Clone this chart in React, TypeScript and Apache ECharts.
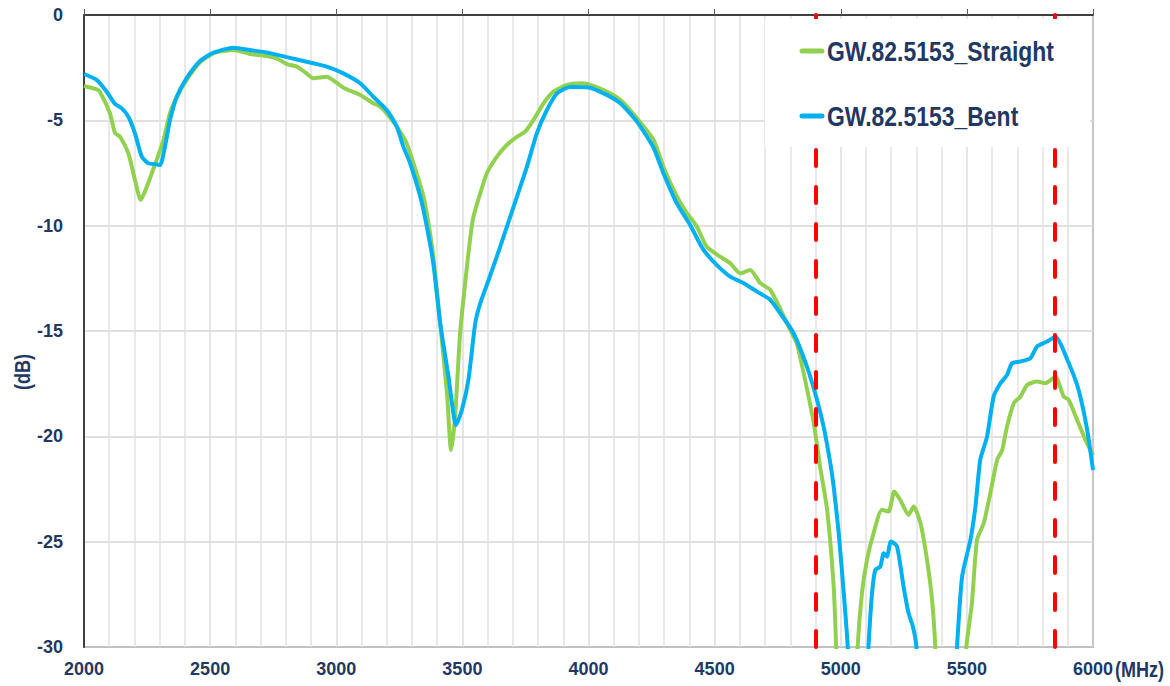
import React, { useEffect, useRef } from "react";
import * as echarts from "echarts";

const straightFreq = [
  2000, 2050, 2063, 2103, 2123, 2143, 2176, 2202, 2225, 2249, 2288, 2315, 2341, 2368, 2407, 2460, 2513, 2592,
  2658, 2725, 2770, 2804, 2844, 2880, 2909, 2962, 3000, 3028, 3095, 3147, 3174, 3200, 3240, 3279, 3306, 3346,
  3372, 3386, 3412, 3439, 3455, 3471, 3491, 3511, 3531, 3544, 3571, 3597, 3637, 3676, 3716, 3749, 3782, 3822,
  3861, 3914, 3967, 3994, 4060, 4126, 4192, 4258, 4297, 4350, 4390, 4430, 4469, 4522, 4562, 4602, 4641, 4681,
  4721, 4760, 4800, 4826, 4853, 4893, 4919, 4946, 4972, 4982, 5000, 5055, 5067, 5084, 5104, 5130, 5163, 5190,
  5212, 5236, 5269, 5289, 5316, 5342, 5362, 5375, 5390, 5480, 5498, 5520, 5540, 5567, 5593, 5620, 5640, 5659,
  5686, 5712, 5739, 5778, 5811, 5851, 5884, 5904, 5937, 5970, 6000,
];
const straightDb = [
  -3.37, -3.53, -3.64, -4.67, -5.6, -5.78, -6.57, -7.83, -8.78, -8.15, -6.88, -5.93, -4.66, -3.88, -3.08, -2.25, -1.82, -1.66,
  -1.85, -1.95, -2.1, -2.33, -2.45, -2.75, -3.0, -2.93, -3.2, -3.45, -3.8, -4.19, -4.35, -4.67, -5.3, -6.09, -7.04, -8.62,
  -10.36, -11.6, -14.63, -17.95, -20.65, -19.06, -15.1, -12.73, -10.6, -9.57, -8.46, -7.51, -6.72, -6.17, -5.78, -5.54, -4.98, -4.19,
  -3.64, -3.32, -3.24, -3.27, -3.56, -4.03, -4.9, -5.93, -7.2, -8.6, -9.4, -10.05, -11.0, -11.47, -11.79, -12.26, -12.1, -12.73,
  -13.05, -13.95, -14.95, -15.6, -17.0, -19.38, -21.5, -23.49, -27.13, -30, -34, -34, -30, -27.45, -25.87, -24.6, -23.49, -23.57,
  -22.62, -23.02, -23.73, -23.33, -24.12, -25.87, -27.77, -30, -34, -34, -30, -27.92, -24.92, -24.12, -22.7, -21.12, -20.65, -19.54,
  -18.43, -18.12, -17.56, -17.4, -17.48, -17.17, -18.12, -18.27, -19.22, -20.17, -20.9,
];

const bentFreq = [
  2000, 2050, 2090, 2123, 2150, 2176, 2202, 2229, 2255, 2288, 2302, 2321, 2341, 2368, 2407, 2460, 2513, 2592,
  2671, 2725, 2804, 2909, 2962, 3028, 3095, 3147, 3174, 3200, 3240, 3266, 3293, 3333, 3359, 3386, 3412, 3445,
  3475, 3498, 3524, 3551, 3571, 3604, 3650, 3703, 3756, 3795, 3835, 3875, 3927, 3994, 4060, 4126, 4192, 4258,
  4297, 4350, 4403, 4456, 4509, 4562, 4615, 4668, 4721, 4774, 4813, 4866, 4906, 4932, 4959, 4972, 4992, 5012,
  5028, 5045, 5095, 5110, 5124, 5137, 5157, 5170, 5183, 5199, 5223, 5249, 5269, 5286, 5300, 5315, 5445, 5461,
  5481, 5514, 5534, 5553, 5580, 5606, 5633, 5659, 5679, 5712, 5752, 5778, 5818, 5851, 5904, 5943, 5977, 6000,
];
const bentDb = [
  -2.8, -3.08, -3.64, -4.22, -4.43, -4.83, -5.62, -6.72, -7.04, -7.09, -7.12, -6.25, -4.98, -3.88, -3.0, -2.18, -1.79, -1.55,
  -1.69, -1.78, -2.0, -2.29, -2.45, -2.77, -3.24, -3.88, -4.19, -4.51, -5.3, -6.25, -7.04, -8.62, -10.05, -11.9, -14.63, -17.17,
  -19.46, -18.75, -17.32, -14.63, -13.68, -12.58, -11.0, -9.1, -7.2, -5.62, -4.51, -3.72, -3.42, -3.43, -3.72, -4.19, -5.06, -6.3,
  -7.51, -8.94, -9.97, -11.15, -11.87, -12.42, -12.73, -13.13, -13.53, -14.4, -15.1, -16.69, -18.27, -19.54, -21.3, -22.39, -24.6, -27.45,
  -30, -34, -34, -30, -27.45, -26.34, -26.18, -25.55, -25.71, -24.99, -25.23, -27.13, -28.4, -29.03, -30, -34, -34, -30,
  -26.66, -24.92, -23.33, -21.12, -20.01, -18.12, -17.48, -17.09, -16.53, -16.45, -16.29, -15.74, -15.5, -15.27, -16.53, -17.8, -19.7, -21.6,
];

const markerFreqs = [4900, 5850];
const seriesNames = ["GW.82.5153_Straight", "GW.82.5153_Bent"];
const seriesColors = ["#92D050", "#00B0F0"];
const xTicks = [2000, 6000, 500];
const yTicks = [-30, 0, 5];

const NAVY = "#1F3864";
const FONT = "Arial, 'Liberation Sans', sans-serif";
const NARROW = 0.82;

export default function App() {
  const ref = useRef<HTMLDivElement>(null);
  useEffect(() => {
    if (!ref.current) return;
    const chart = echarts.init(ref.current, null, { renderer: "svg" });
    const zip = (xs: number[], ys: number[]) => xs.map((x, i) => [x, ys[i]]);
    const legendRows = [51, 116];
    const legendGraphic: any[] = [
      {
        type: "rect",
        z: 100,
        shape: { x: 765, y: 19, width: 325, height: 128 },
        style: { fill: "#ffffff" },
      },
    ];
    seriesNames.forEach((name, i) => {
      legendGraphic.push({
        type: "line",
        z: 101,
        shape: { x1: 802, y1: legendRows[i], x2: 822, y2: legendRows[i] },
        style: { stroke: seriesColors[i], lineWidth: 5, lineCap: "round" },
      });
      legendGraphic.push({
        type: "text",
        z: 101,
        x: 827,
        y: legendRows[i],
        scaleX: 0.85,
        style: {
          text: name,
          fontFamily: FONT,
          fontWeight: "bold",
          fontSize: 27,
          fill: NAVY,
          align: "left",
          verticalAlign: "middle",
        },
      });
    });
    chart.setOption({
      animation: false,
      backgroundColor: "#ffffff",
      grid: {
        left: 84,
        right: 77,
        top: 15,
        bottom: 39,
        show: true,
        borderColor: "#595959",
        borderWidth: 1.5,
      },
      xAxis: {
        type: "value",
        min: xTicks[0],
        max: xTicks[1],
        interval: xTicks[2],
        axisLine: { show: true, lineStyle: { color: "#404040", width: 2 } },
        axisTick: { show: true, inside: true, length: 6, lineStyle: { color: "#595959", width: 1 } },
        axisLabel: {
          fontFamily: FONT,
          fontWeight: "bold",
          fontSize: 18,
          color: NAVY,
          margin: 13,
          formatter: (v: number) => String(v),
        },
        splitLine: { show: true, lineStyle: { color: "#dcdcdc", width: 1.5 } },
        minorTick: { show: false, splitNumber: 5 },
        minorSplitLine: { show: true, lineStyle: { color: "#e2e2e2", width: 1.5 } },
      },
      yAxis: {
        type: "value",
        min: yTicks[0],
        max: yTicks[1],
        interval: yTicks[2],
        axisLine: { show: true, lineStyle: { color: "#404040", width: 2 } },
        axisTick: { show: false },
        axisLabel: { fontFamily: FONT, fontWeight: "bold", fontSize: 18, color: NAVY, margin: 21 },
        splitLine: { show: true, lineStyle: { color: "#d6d6d6", width: 1.5 } },
      },
      graphic: [
        ...legendGraphic,
        {
          type: "text",
          x: 1115,
          y: 669,
          scaleX: NARROW,
          style: {
            text: "(MHz)",
            fontFamily: FONT,
            fontWeight: "bold",
            fontSize: 22,
            fill: NAVY,
            align: "left",
            verticalAlign: "middle",
          },
        },
        {
          type: "text",
          x: 11,
          y: 390,
          rotation: Math.PI / 2,
          scaleX: NARROW,
          style: { text: "(dB)", fontFamily: FONT, fontWeight: "bold", fontSize: 22, fill: NAVY },
        },
      ],
      series: [
        {
          name: seriesNames[0],
          type: "line",
          showSymbol: false,
          smooth: 0.2,
          clip: true,
          color: seriesColors[0],
          lineStyle: { width: 4, color: seriesColors[0] },
          data: zip(straightFreq, straightDb),
          z: 2,
        },
        {
          name: seriesNames[1],
          type: "line",
          showSymbol: false,
          smooth: 0.2,
          clip: true,
          color: seriesColors[1],
          lineStyle: { width: 4, color: seriesColors[1] },
          data: zip(bentFreq, bentDb),
          z: 3,
          markLine: {
            silent: true,
            symbol: ["none", "none"],
            label: { show: false },
            lineStyle: { color: "#FF0000", width: 4, type: [16, 21], cap: "round" },
            data: markerFreqs.map((f) => ({ xAxis: f })),
          },
        },
      ],
    });
    return () => chart.dispose();
  }, []);
  return (
    <div
      ref={ref}
      style={{ position: "fixed", left: 0, top: 0, width: 1170, height: 686, background: "#fff" }}
    />
  );
}
